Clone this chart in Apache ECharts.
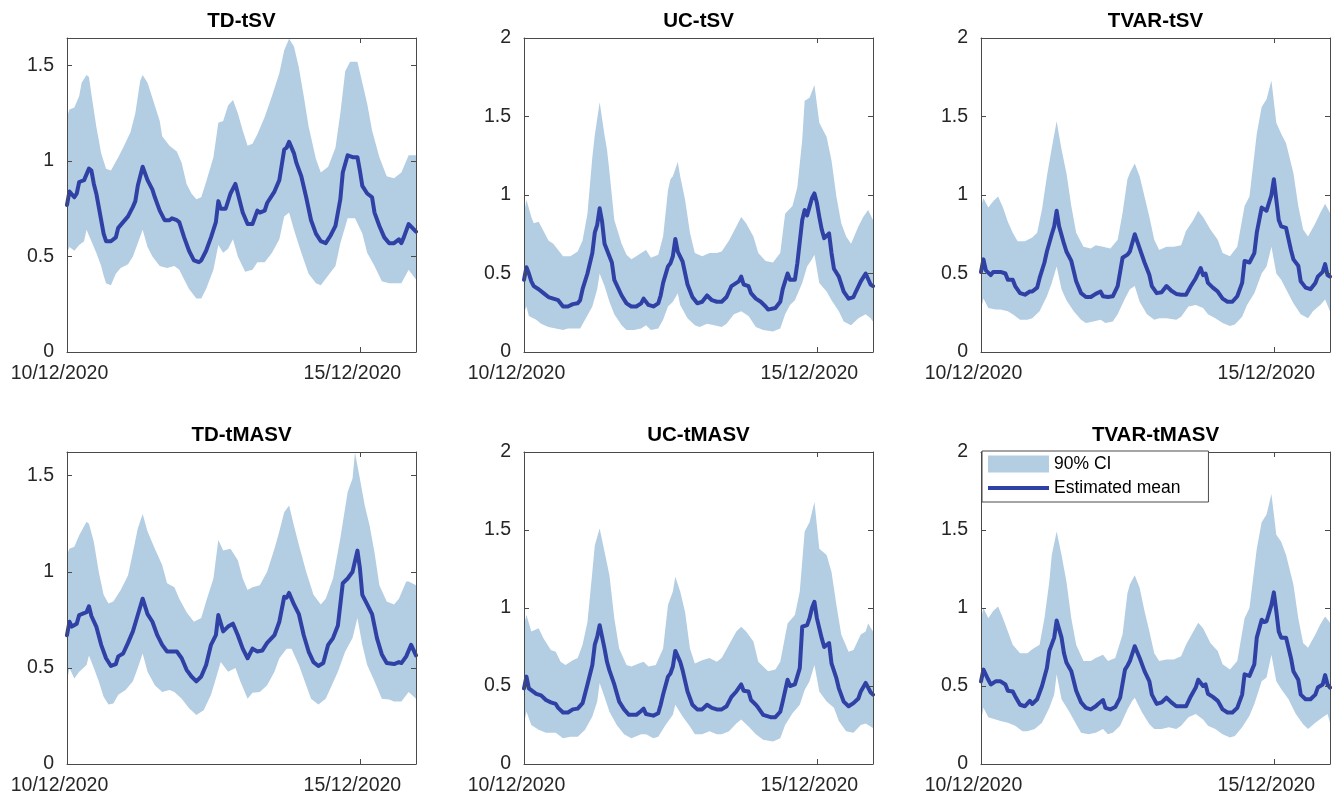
<!DOCTYPE html>
<html>
<head>
<meta charset="utf-8">
<title>Estimated volatility</title>
<script src="https://cdn.jsdelivr.net/npm/echarts@6.0.0/dist/echarts.min.js"></script>
<style>
  html, body { margin: 0; padding: 0; background: #fff; }
  #chart { width: 1337px; height: 798px; }
</style>
</head>
<body>
<div id="chart"></div>
<script>
// x values are hours after 10/12/2020 00:00 (hourly data, 144 obs)
const START = Date.UTC(2020, 11, 10);
const LAST_HOUR = 143;

const titles = ['TD-tSV', 'UC-tSV', 'TVAR-tSV', 'TD-tMASV', 'UC-tMASV', 'TVAR-tMASV'];
const yMax = [1.644, 2, 2, 1.623, 2, 2];

// ---- TD-tSV
const tdTsvMean = [[0,0.77],[1,0.84],[3,0.81],[4,0.83],[5,0.89],[7,0.90],[9,0.96],[10,0.95],[11,0.88],[12,0.83],[14,0.69],[15,0.62],[16,0.58],[18,0.58],[20,0.60],[21,0.65],[23,0.68],[25,0.71],[27,0.76],[28,0.79],[29,0.87],[31,0.97],[33,0.90],[35,0.85],[36,0.81],[38,0.74],[40,0.69],[42,0.69],[43,0.70],[45,0.69],[46,0.68],[48,0.60],[50,0.53],[52,0.48],[54,0.47],[55,0.48],[57,0.53],[59,0.60],[61,0.68],[62,0.79],[63,0.75],[65,0.75],[67,0.83],[69,0.88],[70,0.83],[72,0.73],[74,0.67],[76,0.67],[78,0.74],[79,0.73],[81,0.74],[82,0.78],[85,0.84],[87,0.90],[89,1.06],[90,1.07],[91,1.10],[93,1.04],[94,0.99],[96,0.92],[98,0.81],[100,0.69],[102,0.62],[104,0.58],[106,0.57],[108,0.61],[110,0.66],[112,0.80],[113,0.94],[115,1.03],[117,1.02],[119,1.02],[120,0.95],[121,0.87],[123,0.83],[125,0.81],[126,0.73],[128,0.66],[130,0.60],[132,0.57],[134,0.57],[136,0.59],[137,0.57],[138,0.60],[140,0.67],[143,0.63]];
const tdTsvUpper = [[0,1.23],[1,1.27],[3,1.28],[5,1.34],[6,1.41],[8,1.45],[9,1.44],[10,1.35],[12,1.18],[14,1.04],[16,0.96],[18,0.95],[21,1.02],[23,1.07],[26,1.15],[28,1.25],[30,1.42],[31,1.45],[33,1.41],[35,1.33],[38,1.21],[39,1.13],[42,1.08],[45,1.05],[47,0.99],[49,0.88],[51,0.83],[53,0.80],[55,0.81],[57,0.89],[60,1.02],[62,1.20],[64,1.21],[66,1.29],[68,1.32],[70,1.25],[72,1.16],[74,1.08],[76,1.09],[78,1.14],[81,1.23],[84,1.34],[87,1.46],[89,1.58],[91,1.64],[93,1.60],[95,1.49],[97,1.34],[99,1.18],[102,1.01],[104,0.94],[107,0.97],[110,1.07],[112,1.25],[114,1.47],[116,1.52],[119,1.52],[121,1.41],[123,1.30],[125,1.16],[128,1.02],[131,0.92],[134,0.91],[137,0.94],[140,1.03],[143,1.03]];
const tdTsvLower = [[0,0.52],[1,0.55],[3,0.53],[5,0.56],[7,0.58],[8,0.64],[10,0.58],[12,0.52],[14,0.45],[15,0.40],[16,0.36],[18,0.35],[20,0.41],[22,0.44],[25,0.46],[27,0.50],[29,0.57],[31,0.64],[33,0.55],[35,0.50],[38,0.45],[41,0.44],[44,0.45],[46,0.43],[48,0.38],[50,0.33],[53,0.28],[55,0.28],[57,0.33],[60,0.43],[62,0.56],[64,0.52],[66,0.54],[68,0.59],[70,0.50],[73,0.42],[76,0.43],[78,0.47],[81,0.47],[84,0.52],[87,0.59],[89,0.71],[91,0.73],[93,0.64],[96,0.52],[99,0.41],[102,0.36],[104,0.35],[107,0.40],[110,0.45],[112,0.57],[115,0.70],[118,0.70],[121,0.62],[123,0.52],[126,0.45],[129,0.37],[132,0.36],[134,0.36],[137,0.36],[140,0.43],[143,0.38]];

// ---- UC-tSV
const ucTsvMean = [[0,0.46],[1,0.54],[2,0.50],[3,0.45],[4,0.42],[6,0.40],[8,0.375],[10,0.35],[12,0.34],[14,0.33],[16,0.29],[18,0.29],[20,0.305],[22,0.31],[23,0.33],[24,0.40],[26,0.50],[28,0.63],[29,0.76],[30,0.81],[31,0.915],[32,0.83],[33,0.69],[35,0.61],[36,0.57],[37,0.46],[40,0.36],[42,0.31],[44,0.29],[46,0.29],[48,0.31],[49,0.34],[51,0.30],[53,0.29],[55,0.31],[56,0.36],[57,0.44],[59,0.545],[60,0.565],[61,0.61],[62,0.72],[63,0.64],[65,0.575],[67,0.43],[69,0.35],[71,0.31],[73,0.32],[75,0.36],[77,0.33],[79,0.32],[81,0.32],[83,0.35],[85,0.42],[88,0.45],[89,0.48],[90,0.43],[92,0.42],[93,0.375],[95,0.34],[97,0.32],[99,0.29],[100,0.27],[103,0.28],[105,0.32],[106,0.40],[108,0.50],[109,0.46],[111,0.46],[112,0.565],[114,0.84],[115,0.905],[116,0.87],[118,0.98],[119,1.01],[120,0.95],[121,0.86],[122,0.78],[123,0.725],[125,0.755],[126,0.63],[127,0.53],[129,0.48],[131,0.385],[133,0.34],[135,0.35],[136,0.385],[138,0.45],[140,0.50],[142,0.43],[143,0.42]];
const ucTsvUpper = [[0,0.88],[1,0.97],[3,0.86],[4,0.82],[6,0.83],[8,0.77],[10,0.71],[12,0.69],[14,0.65],[16,0.61],[19,0.61],[22,0.64],[24,0.71],[26,0.88],[28,1.24],[29,1.38],[31,1.59],[33,1.38],[34,1.29],[35,1.15],[37,0.84],[40,0.69],[42,0.62],[44,0.59],[46,0.61],[48,0.63],[50,0.65],[52,0.60],[55,0.62],[57,0.735],[59,1.03],[60,1.10],[61,1.12],[63,1.21],[64,1.12],[66,0.97],[68,0.76],[70,0.63],[73,0.61],[76,0.63],[79,0.63],[81,0.64],[84,0.71],[87,0.80],[89,0.86],[91,0.82],[94,0.735],[96,0.63],[99,0.58],[102,0.57],[105,0.63],[107,0.88],[110,0.93],[112,1.05],[114,1.35],[115,1.60],[117,1.62],[119,1.70],[121,1.46],[124,1.37],[126,1.22],[128,0.99],[130,0.82],[132,0.735],[134,0.69],[137,0.80],[139,0.86],[141,0.905],[143,0.84]];
const ucTsvLower = [[0,0.25],[1,0.29],[2,0.23],[5,0.205],[7,0.18],[10,0.16],[13,0.15],[16,0.14],[18,0.15],[21,0.15],[23,0.15],[25,0.205],[28,0.29],[30,0.40],[31,0.50],[33,0.42],[35,0.32],[37,0.24],[40,0.17],[42,0.14],[45,0.14],[48,0.15],[50,0.17],[52,0.14],[55,0.15],[57,0.205],[59,0.29],[61,0.32],[63,0.375],[64,0.30],[67,0.215],[70,0.17],[72,0.16],[75,0.18],[78,0.17],[81,0.16],[83,0.18],[86,0.24],[89,0.26],[92,0.23],[95,0.16],[98,0.14],[102,0.13],[105,0.15],[107,0.24],[109,0.30],[111,0.33],[114,0.44],[116,0.545],[118,0.59],[119,0.62],[121,0.44],[124,0.385],[126,0.33],[129,0.26],[131,0.195],[134,0.17],[137,0.215],[140,0.24],[142,0.215],[143,0.195]];

// ---- TVAR-tSV
const tvarTsvMean = [[0,0.51],[1,0.59],[2,0.52],[4,0.49],[5,0.51],[8,0.51],[10,0.50],[11,0.46],[13,0.46],[14,0.42],[16,0.375],[18,0.365],[20,0.385],[21,0.385],[23,0.41],[24,0.47],[26,0.57],[27,0.64],[29,0.75],[30,0.80],[31,0.90],[32,0.80],[34,0.69],[35,0.64],[37,0.58],[39,0.45],[41,0.375],[43,0.35],[45,0.35],[47,0.37],[49,0.385],[50,0.355],[52,0.35],[54,0.355],[56,0.42],[58,0.60],[60,0.62],[61,0.64],[63,0.75],[65,0.66],[67,0.57],[69,0.49],[70,0.42],[72,0.375],[74,0.38],[76,0.42],[78,0.39],[80,0.37],[82,0.365],[84,0.365],[86,0.42],[88,0.47],[90,0.535],[91,0.49],[92,0.50],[93,0.44],[95,0.41],[97,0.385],[99,0.34],[101,0.32],[103,0.32],[105,0.355],[107,0.44],[108,0.58],[110,0.57],[112,0.63],[113,0.76],[115,0.92],[116,0.91],[117,0.90],[119,1.00],[120,1.10],[121,0.97],[122,0.84],[123,0.80],[125,0.79],[127,0.65],[128,0.59],[130,0.55],[131,0.45],[133,0.41],[135,0.40],[137,0.44],[138,0.48],[140,0.51],[141,0.56],[142,0.49],[143,0.48]];
const tvarTsvUpper = [[0,0.93],[1,0.98],[3,0.92],[5,0.96],[7,0.99],[9,0.92],[11,0.83],[13,0.76],[15,0.705],[18,0.705],[21,0.73],[23,0.76],[25,0.91],[27,1.12],[29,1.30],[31,1.47],[33,1.29],[35,1.14],[37,0.93],[39,0.76],[42,0.67],[45,0.66],[47,0.68],[50,0.67],[53,0.66],[56,0.715],[58,0.885],[60,1.10],[61,1.14],[63,1.20],[65,1.12],[67,0.99],[69,0.86],[71,0.715],[73,0.65],[76,0.67],[79,0.67],[82,0.68],[84,0.77],[87,0.84],[89,0.90],[91,0.86],[94,0.78],[97,0.715],[99,0.63],[102,0.61],[105,0.67],[108,0.93],[110,0.99],[113,1.39],[115,1.56],[117,1.61],[119,1.73],[121,1.46],[123,1.39],[125,1.33],[128,1.14],[130,0.93],[132,0.78],[134,0.735],[137,0.82],[139,0.885],[141,0.945],[143,0.885]];
const tvarTsvLower = [[0,0.27],[1,0.34],[3,0.28],[6,0.27],[8,0.27],[11,0.26],[13,0.24],[16,0.205],[19,0.205],[21,0.215],[24,0.26],[27,0.355],[29,0.44],[31,0.545],[33,0.40],[35,0.33],[38,0.26],[41,0.205],[43,0.185],[46,0.195],[49,0.205],[51,0.185],[54,0.195],[56,0.24],[59,0.34],[61,0.40],[63,0.42],[65,0.32],[68,0.24],[71,0.205],[73,0.215],[76,0.215],[80,0.205],[82,0.225],[85,0.29],[88,0.30],[91,0.28],[93,0.24],[96,0.215],[99,0.185],[102,0.165],[104,0.175],[107,0.225],[109,0.30],[112,0.375],[115,0.50],[117,0.545],[119,0.67],[121,0.50],[123,0.46],[125,0.40],[128,0.31],[131,0.24],[134,0.215],[136,0.26],[139,0.30],[141,0.335],[143,0.26]];

// ---- TD-tMASV
const tdTmasvMean = [[0,0.67],[1,0.74],[2,0.715],[4,0.73],[5,0.775],[8,0.79],[9,0.82],[10,0.77],[12,0.715],[14,0.62],[16,0.55],[18,0.51],[20,0.52],[21,0.56],[23,0.575],[25,0.63],[27,0.69],[29,0.775],[31,0.86],[33,0.78],[35,0.74],[37,0.67],[39,0.62],[41,0.585],[43,0.585],[45,0.585],[47,0.55],[49,0.49],[51,0.455],[53,0.43],[55,0.455],[57,0.515],[59,0.62],[61,0.67],[62,0.775],[64,0.69],[66,0.715],[68,0.73],[70,0.67],[72,0.60],[74,0.55],[76,0.60],[78,0.585],[80,0.59],[82,0.63],[85,0.67],[87,0.74],[89,0.87],[90,0.865],[91,0.89],[93,0.83],[95,0.78],[97,0.67],[99,0.585],[101,0.53],[103,0.51],[105,0.525],[107,0.62],[109,0.655],[111,0.72],[113,0.94],[115,0.965],[117,1.00],[119,1.11],[120,1.02],[121,0.88],[123,0.83],[125,0.78],[127,0.655],[129,0.57],[131,0.525],[134,0.52],[136,0.53],[137,0.525],[139,0.56],[141,0.62],[143,0.565]];
const tdTmasvUpper = [[0,1.09],[1,1.12],[3,1.13],[5,1.19],[8,1.26],[9,1.25],[11,1.155],[13,1.00],[15,0.88],[17,0.835],[19,0.845],[22,0.905],[25,0.98],[27,1.10],[29,1.225],[31,1.30],[33,1.21],[36,1.12],[39,1.035],[41,0.94],[44,0.92],[46,0.86],[49,0.79],[52,0.74],[55,0.76],[57,0.845],[60,0.965],[62,1.165],[64,1.11],[67,1.12],[70,1.06],[72,0.965],[74,0.905],[76,0.92],[79,0.93],[82,1.00],[85,1.12],[87,1.21],[89,1.31],[91,1.345],[93,1.24],[95,1.14],[98,1.00],[101,0.88],[104,0.83],[106,0.86],[109,0.965],[112,1.175],[115,1.415],[117,1.485],[118,1.62],[120,1.485],[122,1.345],[124,1.24],[126,1.10],[128,0.93],[131,0.845],[134,0.83],[136,0.86],[139,0.95],[140,0.95],[143,0.93]];
const tdTmasvLower = [[0,0.43],[1,0.50],[3,0.445],[5,0.48],[8,0.515],[9,0.565],[11,0.50],[13,0.43],[15,0.35],[17,0.31],[19,0.315],[21,0.36],[24,0.385],[27,0.43],[29,0.50],[31,0.575],[33,0.48],[36,0.41],[39,0.375],[42,0.385],[44,0.375],[47,0.34],[50,0.29],[53,0.255],[56,0.28],[59,0.36],[61,0.445],[63,0.53],[66,0.48],[69,0.50],[71,0.43],[74,0.34],[76,0.37],[79,0.375],[82,0.41],[85,0.48],[87,0.55],[90,0.60],[92,0.60],[95,0.515],[98,0.41],[100,0.34],[103,0.31],[106,0.34],[108,0.395],[111,0.48],[114,0.585],[117,0.655],[119,0.76],[121,0.62],[123,0.515],[126,0.43],[129,0.34],[132,0.335],[134,0.325],[137,0.325],[140,0.375],[143,0.34]];

// ---- UC-tMASV
const ucTmasvMean = [[0,0.485],[1,0.56],[2,0.485],[5,0.45],[7,0.44],[9,0.41],[11,0.395],[13,0.385],[14,0.36],[16,0.33],[18,0.33],[20,0.35],[22,0.355],[24,0.39],[26,0.51],[28,0.635],[29,0.765],[30,0.815],[31,0.89],[33,0.74],[34,0.655],[35,0.60],[37,0.51],[39,0.40],[41,0.35],[43,0.315],[46,0.315],[48,0.34],[49,0.355],[50,0.32],[53,0.31],[55,0.325],[56,0.38],[57,0.445],[59,0.56],[60,0.58],[61,0.625],[62,0.725],[64,0.655],[65,0.60],[67,0.465],[69,0.38],[71,0.35],[73,0.35],[75,0.38],[77,0.36],[79,0.35],[81,0.35],[83,0.37],[85,0.43],[87,0.465],[89,0.51],[90,0.47],[92,0.465],[93,0.41],[95,0.38],[96,0.36],[98,0.315],[101,0.30],[103,0.30],[105,0.335],[106,0.40],[108,0.54],[109,0.50],[111,0.51],[113,0.615],[114,0.88],[116,0.89],[117,0.935],[118,1.00],[119,1.04],[120,0.935],[122,0.805],[123,0.75],[125,0.775],[126,0.645],[128,0.55],[129,0.485],[131,0.40],[133,0.37],[135,0.39],[137,0.42],[138,0.465],[140,0.52],[142,0.46],[143,0.445]];
const ucTmasvUpper = [[0,0.89],[1,0.955],[3,0.85],[6,0.87],[8,0.805],[11,0.73],[13,0.72],[15,0.655],[17,0.635],[20,0.665],[22,0.68],[24,0.765],[26,0.91],[28,1.23],[29,1.40],[31,1.51],[33,1.36],[35,1.21],[37,0.935],[39,0.74],[42,0.635],[44,0.625],[47,0.645],[49,0.655],[51,0.625],[54,0.635],[57,0.74],[59,1.02],[61,1.105],[62,1.20],[64,1.105],[66,0.975],[68,0.74],[70,0.645],[73,0.665],[76,0.68],[79,0.655],[81,0.68],[84,0.765],[87,0.85],[89,0.88],[91,0.85],[94,0.785],[96,0.655],[100,0.595],[103,0.605],[105,0.655],[108,0.90],[111,0.955],[113,1.105],[115,1.49],[117,1.55],[119,1.68],[121,1.38],[124,1.34],[126,1.23],[128,1.02],[130,0.83],[133,0.72],[135,0.73],[138,0.83],[140,0.85],[141,0.90],[143,0.85]];
const ucTmasvLower = [[0,0.26],[1,0.335],[3,0.25],[6,0.22],[9,0.20],[13,0.20],[16,0.165],[19,0.175],[22,0.175],[25,0.22],[28,0.305],[30,0.40],[31,0.52],[33,0.43],[35,0.335],[38,0.25],[41,0.19],[44,0.165],[48,0.19],[50,0.19],[53,0.165],[55,0.175],[58,0.25],[61,0.315],[62,0.38],[65,0.305],[68,0.24],[70,0.19],[73,0.19],[76,0.21],[79,0.19],[81,0.19],[84,0.21],[87,0.26],[89,0.285],[92,0.24],[95,0.19],[98,0.155],[102,0.145],[105,0.165],[107,0.25],[110,0.325],[113,0.38],[115,0.475],[117,0.53],[119,0.635],[121,0.465],[124,0.40],[127,0.36],[129,0.275],[132,0.21],[135,0.20],[138,0.25],[140,0.26],[143,0.23]];

// ---- TVAR-tMASV
const tvarTmasvMean = [[0,0.53],[1,0.605],[3,0.54],[4,0.51],[6,0.53],[8,0.53],[10,0.51],[11,0.47],[13,0.465],[14,0.435],[16,0.38],[18,0.37],[20,0.405],[21,0.385],[23,0.415],[25,0.50],[27,0.615],[28,0.725],[30,0.81],[31,0.92],[33,0.81],[34,0.71],[35,0.65],[37,0.595],[39,0.47],[41,0.395],[43,0.36],[45,0.35],[47,0.37],[48,0.385],[50,0.41],[51,0.36],[53,0.35],[55,0.365],[57,0.425],[59,0.605],[60,0.63],[61,0.66],[63,0.755],[65,0.68],[67,0.595],[69,0.53],[70,0.445],[72,0.385],[74,0.395],[76,0.425],[78,0.395],[80,0.37],[82,0.37],[84,0.37],[86,0.435],[88,0.49],[89,0.54],[91,0.50],[92,0.51],[93,0.45],[95,0.43],[97,0.405],[99,0.35],[101,0.33],[103,0.33],[105,0.36],[107,0.445],[108,0.575],[110,0.565],[112,0.64],[113,0.81],[115,0.925],[116,0.91],[117,0.915],[119,1.02],[120,1.10],[121,0.98],[122,0.85],[123,0.81],[125,0.81],[127,0.68],[128,0.595],[130,0.54],[131,0.445],[133,0.415],[135,0.415],[137,0.445],[138,0.49],[140,0.51],[141,0.57],[142,0.51],[143,0.49]];
const tvarTmasvUpper = [[0,0.935],[1,1.00],[3,0.935],[5,0.98],[7,1.01],[9,0.935],[11,0.85],[13,0.765],[16,0.71],[19,0.71],[21,0.735],[24,0.765],[26,0.935],[28,1.17],[29,1.34],[31,1.49],[33,1.34],[35,1.17],[37,0.935],[39,0.765],[42,0.66],[45,0.66],[47,0.68],[50,0.70],[52,0.66],[55,0.68],[58,0.83],[60,1.095],[61,1.15],[63,1.21],[65,1.13],[67,0.98],[69,0.85],[71,0.71],[73,0.66],[76,0.67],[79,0.67],[82,0.69],[84,0.765],[87,0.85],[89,0.905],[91,0.87],[94,0.775],[97,0.725],[99,0.64],[102,0.605],[105,0.66],[108,0.935],[110,1.00],[113,1.38],[115,1.55],[117,1.60],[119,1.73],[121,1.47],[123,1.425],[125,1.34],[128,1.15],[130,0.935],[132,0.775],[134,0.745],[137,0.83],[139,0.895],[141,0.945],[143,0.905]];
const tvarTmasvLower = [[0,0.275],[1,0.36],[3,0.30],[6,0.285],[8,0.275],[11,0.265],[14,0.245],[17,0.21],[19,0.21],[22,0.225],[25,0.265],[28,0.36],[30,0.445],[31,0.575],[33,0.415],[36,0.34],[39,0.255],[41,0.20],[44,0.19],[47,0.20],[50,0.225],[52,0.19],[54,0.20],[57,0.245],[60,0.35],[62,0.405],[63,0.425],[66,0.33],[69,0.255],[71,0.225],[74,0.225],[77,0.235],[80,0.225],[82,0.245],[85,0.30],[88,0.32],[91,0.285],[93,0.245],[96,0.225],[99,0.19],[102,0.17],[104,0.18],[107,0.235],[110,0.31],[112,0.385],[115,0.53],[117,0.555],[119,0.70],[121,0.53],[123,0.48],[126,0.415],[129,0.32],[132,0.255],[134,0.225],[137,0.265],[140,0.30],[142,0.32],[143,0.265]];

const means  = [tdTsvMean, ucTsvMean, tvarTsvMean, tdTmasvMean, ucTmasvMean, tvarTmasvMean];
const uppers = [tdTsvUpper, ucTsvUpper, tvarTsvUpper, tdTmasvUpper, ucTmasvUpper, tvarTmasvUpper];
const lowers = [tdTsvLower, ucTsvLower, tvarTsvLower, tdTmasvLower, ucTmasvLower, tvarTmasvLower];

const BAND = '#b3cde3';
const LINE = '#2f41a5';
const AXIS = '#262626';
const FRAME = '#4a4a4a';
const FONT = "'Liberation Sans', Arial, Helvetica, sans-serif";

// panel geometry (px)
const lefts = [67, 524, 981];
const tops = [38, 452];
const W = 349;
const H = [314, 312];

function dateLabel(h) {
    var d = new Date(START + h * 3600 * 1000);
    var dd = String(d.getUTCDate()).padStart(2, '0');
    var mm = String(d.getUTCMonth() + 1).padStart(2, '0');
    return dd + '/' + mm + '/' + d.getUTCFullYear();
}

var grids = [], xAxes = [], yAxes = [], series = [], titleList = [];

for (let i = 0; i < 6; i++) {
    const row = Math.floor(i / 3), col = i % 3;
    grids.push({ left: lefts[col], top: tops[row], width: W, height: H[row] });

    titleList.push({
        text: titles[i],
        left: lefts[col] + W / 2,
        top: row === 0 ? 11 : 425,
        textAlign: 'center',
        padding: 0,
        textStyle: { fontFamily: FONT, fontSize: 20.5, fontWeight: 'bold', color: '#000' }
    });

    const line = { show: true, onZero: false, lineStyle: { color: FRAME, width: 1 } };
    const tick = { show: true, inside: true, length: 5, lineStyle: { color: FRAME, width: 1 } };

    // bottom x (labels) + top x (ticks only)
    xAxes.push({
        type: 'value', gridIndex: i, min: 0, max: LAST_HOUR, interval: 120,
        position: 'bottom', z: 10,
        axisLine: line, axisTick: tick, splitLine: { show: false },
        axisLabel: {
            formatter: dateLabel, showMaxLabel: false, margin: 12,
            padding: [0, 15, 0, 0],
            fontFamily: FONT, fontSize: 19.5, color: AXIS
        }
    });
    xAxes.push({
        type: 'value', gridIndex: i, min: 0, max: LAST_HOUR, interval: 120,
        position: 'top', z: 10,
        axisLine: line, axisTick: tick, axisLabel: { show: false }, splitLine: { show: false }
    });

    // left y (labels) + right y (ticks only)
    yAxes.push({
        type: 'value', gridIndex: i, min: 0, max: yMax[i], interval: 0.5,
        position: 'left', z: 10,
        axisLine: line, axisTick: tick, splitLine: { show: false },
        axisLabel: {
            showMaxLabel: yMax[i] === 2, margin: 13,
            fontFamily: FONT, fontSize: 19.5, color: AXIS
        }
    });
    yAxes.push({
        type: 'value', gridIndex: i, min: 0, max: yMax[i], interval: 0.5,
        position: 'right', z: 10,
        axisLine: line, axisTick: tick, axisLabel: { show: false }, splitLine: { show: false }
    });

    const up = uppers[i], lo = lowers[i];
    // CI band: polygon through upper then lower (reversed), via the axis scales
    series.push({
        type: 'custom', name: '90% CI',
        xAxisIndex: 2 * i, yAxisIndex: 2 * i,
        data: [[0, 0]],
        itemStyle: { color: BAND },
        silent: true, z: 1,
        renderItem: function (params, api) {
            var pts = up.map(function (p) { return api.coord(p); });
            var back = lo.slice().reverse().map(function (p) { return api.coord(p); });
            return { type: 'polygon', shape: { points: pts.concat(back) }, style: { fill: BAND } };
        }
    });
    series.push({
        type: 'line', name: 'Estimated mean',
        xAxisIndex: 2 * i, yAxisIndex: 2 * i,
        data: means[i],
        symbol: 'none', showSymbol: false, silent: true, z: 3,
        itemStyle: { color: LINE },
        lineStyle: { color: LINE, width: 4, join: 'round', cap: 'round' }
    });
}

var chart = echarts.init(document.getElementById('chart'), null, { renderer: 'canvas' });
chart.setOption({
    animation: false,
    backgroundColor: '#fff',
    title: titleList,
    grid: grids,
    xAxis: xAxes,
    yAxis: yAxes,
    legend: {
        left: 982, top: 451, orient: 'vertical', z: 20,
        backgroundColor: '#fff', borderColor: FRAME, borderWidth: 1, borderRadius: 0,
        padding: [4, 28, 5, 6],
        itemWidth: 61, itemHeight: 17, itemGap: 6,
        selectedMode: false,
        textStyle: { fontFamily: FONT, fontSize: 17.5, color: '#000' },
        data: [
            { name: '90% CI', icon: 'rect' },
            // thin bar so the legend shows a plain line, no marker
            { name: 'Estimated mean', icon: 'path://M0,0L61,0L61,4L0,4Z' }
        ]
    },
    series: series
});
</script>
</body>
</html>
